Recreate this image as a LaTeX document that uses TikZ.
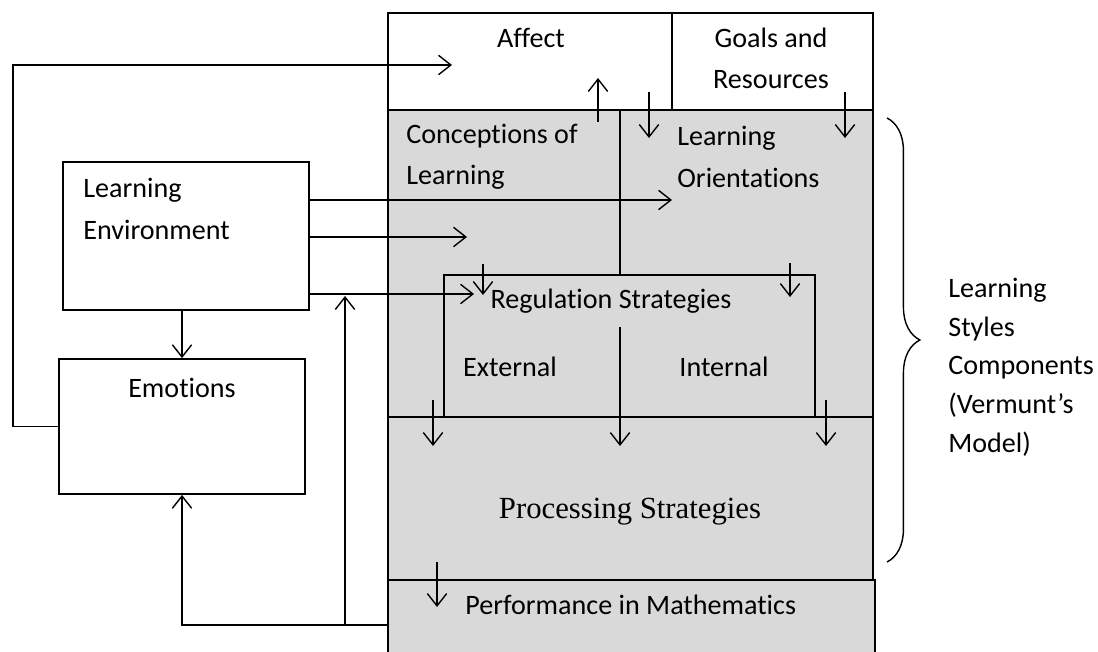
\documentclass[tikz,border=0pt]{standalone}
\usepackage{fontspec}
\setmainfont{Carlito}[Ligatures={NoCommon,NoContextual}]
\newfontfamily\procfont{Liberation Serif}
\usetikzlibrary{arrows.meta,positioning,fit,decorations.pathreplacing,calc}
\tikzset{>=Stealth}
\definecolor{boxgray}{RGB}{217,217,217}

\begin{document}
\begin{tikzpicture}[
    x=0.02cm, y=-0.02cm,
    block/.style={rectangle, draw, line width=1pt, inner sep=0pt},
    grayblock/.style={block, fill=boxgray},
    txt/.style={inner sep=0pt, align=left, font=\fontsize{16}{23.5}\selectfont},
    arrow/.style={-{Straight Barb[length=7pt, width=11pt]}, line width=0.8pt},
    line/.style={line width=0.8pt}
]
    \useasboundingbox (0,0) rectangle (1098,652);

    % Vermunt's components
    \node[block, fit={(388,13) (672,110)}] (aff) {};
    \node[block, fit={(672,13) (873,110)}] (goal) {};
    \node[grayblock, fit={(388,110) (873,417)}] (comp) {};
    \node[grayblock, fit={(444,275) (815,417)}] (reg) {};
    \node[grayblock, fit={(388,417) (873,580)}] (proc) {};
    \node[grayblock, fit={(388,580) (875,670)}] (perf) {};
    \draw[line] (comp.north -| 620,0) -- (reg.north -| 620,0);

    % outside boxes
    \node[block, fit={(63,162) (309,310)}] (env) {};
    \node[block, fit={(59,359) (305,494)}] (emo) {};

    % texts
    \node[txt] (affect) at (531,38) {Affect};
    \node[txt, align=center] (goals) at (771,58) {Goals and\\Resources};
    \node[txt, anchor=west] (concl) at (406,157) {Conceptions of\\Learning};
    \node[txt, anchor=west] (orient) at (677,157) {Learning\\Orientations};
    \node[txt, anchor=west] (envir) at (83,209) {Learning\\Environment};
    \node[txt] (emotions) at (182,388) {Emotions};
    \node[txt] (regul) at (611,301) {Regulation Strategies};
    \node[txt] (extern) at (510,367) {External};
    \node[txt] (intern) at (724,367) {Internal};
    \node[inner sep=0pt, font=\procfont\fontsize{17.5}{21}\selectfont] (process) at (630,512) {Processing Strategies};
    \node[txt, anchor=west] (perform) at (465,605) {Performance in Mathematics};
    \node[txt, anchor=west, font=\fontsize{16}{22}\selectfont] (styles) at (948,367) {Learning\\Styles\\Components\\(Vermunt’s\\Model)};

    % arrow ends
    \coordinate (af) at (452,65);
    \coordinate (lo) at (672,200);
    \coordinate (cl) at (467,237);
    \coordinate (rs) at (474,294);
    \coordinate (up) at (345,296);

    \draw[arrow] (env.east |- lo) -- (lo);
    \draw[arrow] (env.east |- cl) -- (cl);
    \draw[arrow] (env.east |- rs) -- (rs);
    \draw[arrow] (env.south -| emo.north) -- (emo.north);
    \draw[arrow] (emo.west) -- ++(-45,0) |- (af);
    \draw[arrow] (perf.west) -| (emo.south);
    \draw[arrow] (perf.west -| up) -- (up);

    % arrows inside the components
    \draw[arrow] (598,122) -- (598,78);
    \draw[arrow] (649,92) -- (649,138);
    \draw[arrow] (845,92) -- (845,138);
    \draw[arrow] (483,264) -- (483,295);
    \draw[arrow] (790,263) -- (790,297);
    \draw[arrow] (433,400) -- (433,446);
    \draw[arrow] (620,327) -- (620,446);
    \draw[arrow] (826,400) -- (826,446);
    \draw[arrow] (437,562) -- (437,607);

    % brace
    \draw[line, decorate, decoration={brace, amplitude=18.7pt}] (887,118) -- (887,562);
\end{tikzpicture}
\end{document}
